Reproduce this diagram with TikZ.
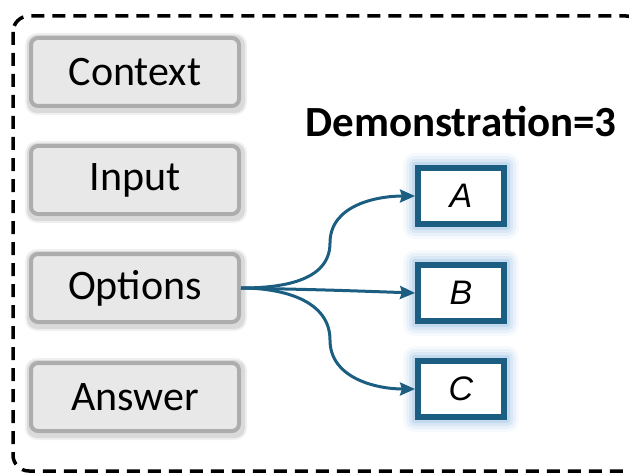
\documentclass[tikz,border=0pt]{standalone}
\usepackage{fontspec}
\setmainfont{Carlito}
\newfontfamily\letterfont{Liberation Sans}
\usetikzlibrary{arrows.meta,backgrounds}
\definecolor{fieldfill}{HTML}{E8E8E8}
\definecolor{fieldedge}{HTML}{ADADAD}
\definecolor{demoblue}{HTML}{1B5E82}
\definecolor{glowblue}{HTML}{7FB0DC}
\tikzset{
  field/.style={draw=fieldedge, line width=4pt, fill=fieldfill, rounded corners=7pt,
    minimum width=208pt, minimum height=68pt, inner sep=0pt,
    font=\fontsize{42}{44}\selectfont},
  choice/.style={draw=demoblue, line width=6pt, fill=white,
    minimum width=86pt, minimum height=56pt, inner sep=0pt,
    font=\letterfont\itshape\fontsize{34}{36}\selectfont},
  link/.style={draw=demoblue, line width=3pt, -{Stealth[length=15pt,width=13pt,inset=2pt]}},
  frame/.style={draw=black, line width=3.5pt, dash pattern=on 13pt off 8pt, rounded corners=16pt}
}
% soft halo around a named node
\newcommand{\halo}[1]{%
  \foreach \g/\o in {12/0.07,9/0.10,6/0.15,3/0.25}{
    \fill[glowblue, opacity=\o, rounded corners=\g pt]
      ([xshift=-\g pt, yshift=\g pt]#1.north west) rectangle ([xshift=\g pt, yshift=-\g pt]#1.south east);
  }}
\newcommand{\greyhalo}[1]{%
  \foreach \g/\o in {5/0.06,3/0.09}{
    \fill[black, opacity=\o, rounded corners=\g pt+7pt]
      ([xshift=-\g pt+1pt, yshift=\g pt-2pt]#1.north west) rectangle ([xshift=\g pt+1pt, yshift=-\g pt-2pt]#1.south east);
  }}
\begin{document}
\begin{tikzpicture}[x=1pt, y=-1pt]
  \useasboundingbox (0,0) rectangle (629,476);
  \begin{scope}
    \clip (0,0) rectangle (629,476);
    \draw[frame] (13,16) rectangle (642,471);
  \end{scope}

  % input fields on the left
  \node[field] (ctx) at (135,72) {Context};
  \node[field] (inp) at (135,180) {Input};
  \node[field] (opt) at (135,288) {Options};
  \node[field] (ans) at (135,397) {Answer};

  % demonstration choices
  \node[font=\bfseries\fontsize{43}{45}\selectfont] (title) at (461,122) {Demonstration=3};
  \node[choice] (A) at (461,196) {A};
  \node[choice] (B) at (461,293) {B};
  \node[choice] (C) at (461,389) {C};

  \begin{scope}[on background layer]
    \foreach \n in {ctx,inp,opt,ans} {\greyhalo{\n}}
    \foreach \n in {A,B,C} {\halo{\n}}
  \end{scope}

  % branching connectors
  \coordinate (upturn) at (330,243);
  \coordinate (downturn) at (330,340);
  \draw[link] (opt.east) to[out=0, in=-90] (upturn) to[out=90, in=180] (A.west);
  \draw[link] (opt.east) .. controls (330,290) .. (B.west);
  \draw[link] (opt.east) to[out=0, in=90] (downturn) to[out=-90, in=180] (C.west);
\end{tikzpicture}
\end{document}
